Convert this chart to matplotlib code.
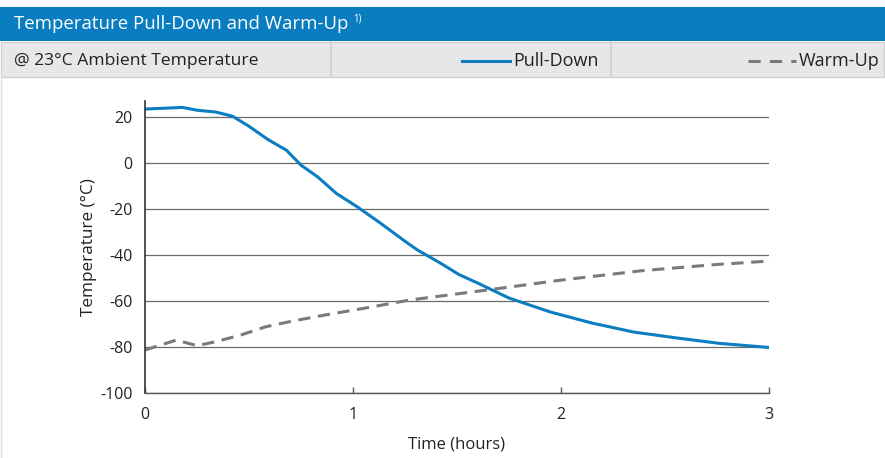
import matplotlib
matplotlib.use('Agg')
import matplotlib.pyplot as plt
from matplotlib.patches import Rectangle
from matplotlib.lines import Line2D

plt.rcParams['font.family'] = ['Open Sans', 'DejaVu Sans']
plt.rcParams['axes.unicode_minus'] = False

# data
pull_t = [0, 0.18, 0.25, 0.34, 0.42, 0.5, 0.59, 0.68, 0.75, 0.83, 0.92, 1.02, 1.13,
          1.25, 1.31, 1.42, 1.51, 1.6, 1.75, 1.95, 2.15, 2.35, 2.56, 2.76, 3.0]
pull_temp = [23.5, 24.2, 23.0, 22.2, 20.4, 16.0, 10.3, 5.6, -0.9, -6.0, -13.2, -19.0, -26.0,
             -34.0, -37.8, -43.5, -48.5, -52.2, -58.7, -64.8, -69.6, -73.5, -76.1, -78.4, -80.2]
warm_t = [0, 0.15, 0.25, 0.34, 0.46, 0.58, 0.71, 0.87, 1.0, 1.13, 1.27, 1.67, 2.0, 2.39, 2.72, 3.0]
warm_temp = [-81.3, -77.0, -79.4, -77.7, -74.8, -71.2, -68.7, -66.0, -64.0, -61.9, -59.6,
             -54.9, -50.9, -46.8, -44.3, -42.6]

title = 'Temperature Pull-Down and Warm-Up'
subtitle = '@ 23°C Ambient Temperature'
series_names = ['Pull-Down', 'Warm-Up']

blue = '#0b7dc1'
grey = '#7a7a7d'
txt = '#222222'

W, H = 885, 458
fig = plt.figure(figsize=(W / 100, H / 100), dpi=100)

def fx(px):
    return px / W

def fy(py):
    return 1 - py / H

# header bars
fig.patches.append(Rectangle((0, fy(41)), 1, fy(7) - fy(41), transform=fig.transFigure,
                             facecolor='#0a7cc0', edgecolor='none'))
fig.patches.append(Rectangle((fx(1), fy(77)), fx(884) - fx(1), fy(42) - fy(77),
                             transform=fig.transFigure, facecolor='#e6e7e8',
                             edgecolor='#cfd0d2', linewidth=1))
for sx in [331, 611]:
    fig.lines.append(Line2D([fx(sx), fx(sx)], [fy(42), fy(77)], transform=fig.transFigure,
                            color='#cfd0d2', linewidth=1.2))
fig.lines.append(Line2D([fx(1), fx(1)], [fy(77), fy(458)], transform=fig.transFigure,
                        color='#e0e0e0', linewidth=1))

fig.text(fx(14), fy(24), title, color='white', fontsize=13.4, va='center', ha='left')
fig.text(fx(353), fy(19), '1)', color='white', fontsize=7, va='center', ha='left')
fig.text(fx(14), fy(61), subtitle, color=txt, fontsize=12.6, va='center', ha='left')

# manual legend
fig.lines.append(Line2D([fx(462), fx(510)], [fy(61), fy(61)], transform=fig.transFigure,
                        color=blue, linewidth=2.2))
fig.text(fx(513), fy(61), series_names[0], color=txt, fontsize=13, va='center', ha='left')
fig.lines.append(Line2D([fx(748), fx(796)], [fy(61), fy(61)], transform=fig.transFigure,
                        color=grey, linewidth=2.2, linestyle=(0, (4, 3))))
fig.text(fx(799), fy(61), series_names[1], color=txt, fontsize=13, va='center', ha='left')

ax = fig.add_axes([fx(145), fy(393), fx(769) - fx(145), fy(101) - fy(393)])
ax.plot(warm_t, warm_temp, color=grey, linewidth=2.2, linestyle=(0, (4, 2.5)))
ax.plot(pull_t, pull_temp, color=blue, linewidth=2.2)

ax.set_xlim(0, 3)
ax.set_ylim(-100, 27)
ax.set_yticks([-100, -80, -60, -40, -20, 0, 20])
ax.set_xticks([0, 1, 2, 3])
ax.yaxis.grid(True, color='#6b6b6b', linewidth=0.9)
ax.set_axisbelow(True)
for s in ['top', 'right']:
    ax.spines[s].set_visible(False)
ax.spines['left'].set_color('#333333')
ax.spines['bottom'].set_color('#555555')
ax.spines['left'].set_linewidth(1.2)
ax.spines['bottom'].set_linewidth(1.0)
ax.tick_params(axis='y', length=0, pad=9, labelsize=11.5, labelcolor=txt)
ax.tick_params(axis='x', direction='in', length=4, width=1, color='#555555',
               pad=10, labelsize=11.5, labelcolor=txt)
ax.set_ylabel('Temperature (°C)', fontsize=12.3, color=txt, labelpad=2)
ax.set_xlabel('Time (hours)', fontsize=12, color=txt, labelpad=10)

fig.savefig('out.png', dpi=100)
